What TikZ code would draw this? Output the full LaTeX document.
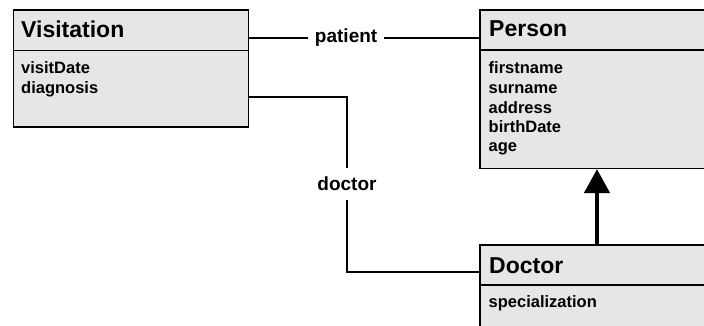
\documentclass[tikz,border=0pt]{standalone}
\usepackage{fontspec}
\setmainfont{Liberation Sans}
\usetikzlibrary{arrows.meta,calc}
\definecolor{boxfill}{RGB}{230,230,230}
\begin{document}
\begin{tikzpicture}[x=1pt,y=-1pt,
 cls/.style={draw=black, fill=boxfill, line width=1.6pt, inner sep=0pt, anchor=north west},
 divider/.style={line width=1.6pt},
 hdr/.style={font=\fontsize{23}{27}\selectfont\bfseries, inner sep=0pt, anchor=base west},
 attr/.style={font=\fontsize{16.5}{19.5}\selectfont\bfseries, inner sep=0pt, anchor=base west, align=left},
 role/.style={font=\fontsize{19}{22}\selectfont\bfseries, fill=white, inner xsep=6.5pt, inner ysep=9pt},
 conn/.style={line width=1.3pt},
 gen/.style={line width=4.5pt, -{Triangle[length=24pt,width=25pt]}}]
\useasboundingbox (0,0) rectangle (704,326);
\clip (0,0) rectangle (704,326);
% classes
\node[cls, minimum width=235pt, minimum height=117pt] (vis) at (12.5,9.5) {};
\node[cls, minimum width=241pt, minimum height=158pt] (per) at (479,9.5) {};
\node[cls, minimum width=241pt, minimum height=100pt] (doc) at (479,244) {};
\draw[divider] ([yshift=-41pt]vis.north west) -- ([yshift=-41pt]vis.north east);
\draw[divider] ([yshift=-40.5pt]per.north west) -- ([yshift=-40.5pt]per.north east);
\draw[divider] ([yshift=-41pt]doc.north west) -- ([yshift=-41pt]doc.north east);
% texts (base anchor = baseline of the last line)
\node[hdr] (visname) at (21,37.3) {Visitation};
\node[hdr] (pername) at (489,37) {Person};
\node[hdr] (docname) at (489,273) {Doctor};
\node[attr] (visattr) at (21,93.5) {visitDate\\diagnosis};
\node[attr] (perattr) at (488.5,152) {firstname\\surname\\address\\birthDate\\age};
\node[attr] (docattr) at (488.5,307.5) {specialization};
% connectors
\coordinate (pl) at (0,38);
\coordinate (dv) at (347,97);
\coordinate (dd) at (347,272);
\coordinate (ax) at (597,0);
\draw[conn] (vis.east |- pl) -- node[role, pos=0.422] (patient) {patient} (per.west |- pl);
\draw[conn] (vis.east |- dv) -- (dv) -- node[role, pos=0.497] (doctor) {doctor} (dd) -- (doc.west |- dd);
\draw[gen] (doc.north -| ax) -- (per.south -| ax);
\end{tikzpicture}
\end{document}
